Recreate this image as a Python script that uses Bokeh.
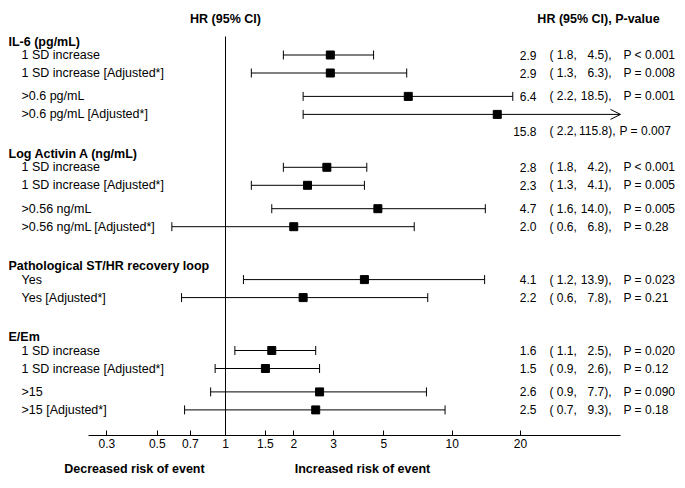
from bokeh.plotting import figure
from bokeh.models import Range1d, LogAxis, FixedTicker, Arrow, OpenHead, ColumnDataSource
from bokeh.core.properties import value
from bokeh.embed import file_html
from bokeh.resources import INLINE

# ---------------- data ----------------
GROUPS = ["IL-6 (pg/mL)", "Log Activin A (ng/mL)", "Pathological ST/HR recovery loop", "E/Em"]
ROW_GROUP = [0, 0, 0, 0, 1, 1, 1, 1, 2, 2, 3, 3, 3, 3]
ROW_LABELS = [
    "1 SD increase", "1 SD increase [Adjusted*]", ">0.6 pg/mL", ">0.6 pg/mL [Adjusted*]",
    "1 SD increase", "1 SD increase [Adjusted*]", ">0.56 ng/mL", ">0.56 ng/mL [Adjusted*]",
    "Yes", "Yes [Adjusted*]",
    "1 SD increase", "1 SD increase [Adjusted*]", ">15", ">15 [Adjusted*]",
]
HR = [2.9, 2.9, 6.4, 15.8, 2.8, 2.3, 4.7, 2.0, 4.1, 2.2, 1.6, 1.5, 2.6, 2.5]
LO = [1.8, 1.3, 2.2, 2.2, 1.8, 1.3, 1.6, 0.58, 1.2, 0.64, 1.1, 0.9, 0.86, 0.66]
HI = [4.5, 6.3, 18.5, 115.8, 4.2, 4.1, 14.0, 6.8, 13.9, 7.8, 2.5, 2.6, 7.7, 9.3]
P_VALUES = ["< 0.001", "= 0.008", "= 0.001", "= 0.007", "< 0.001", "= 0.005", "= 0.005",
            "= 0.28", "= 0.023", "= 0.21", "= 0.020", "= 0.12", "= 0.090", "= 0.18"]
TICKS = [0.3, 0.5, 0.7, 1, 1.5, 2, 3, 5, 10, 20]
TICK_LABELS = ["0.3", "0.5", "0.7", "1", "1.5", "2", "3", "5", "10", "20"]
HEAD_LEFT = "HR (95% CI)"
HEAD_RIGHT = "HR (95% CI), P-value"
SIDE_LABELS = ["Decreased risk of event", "Increased risk of event"]

# ---------------- layout ----------------
BORDER = 8
FRAME_W, FRAME_H = 672, 427
PX_ONE, PX_DECADE = 217.0, 226.7


def px_to_x(px):
    return 10 ** ((px - PX_ONE) / PX_DECADE)


X_START, X_END = px_to_x(0), px_to_x(FRAME_W)
AXIS_MIN, AXIS_MAX = px_to_x(80), px_to_x(612)
Y_BOTTOM, Y_TOP = 435, 8
HEAD_TOP, HEAD_TO_ROW, ROW_STEP, PAIR_STEP, GROUP_GAP = 41, 13.5, 18, 23.4, 39.4
TITLE_Y, REF_TOP, CAP = 18, 36, 4.5
FONT = "Liberation Sans"
FS, FSL, FSR, FSB = "12px", "12.5px", "12px", "12.5px"

head_y, row_y = [], []
cur = HEAD_TOP
for g in range(len(GROUPS)):
    head_y.append(cur)
    idx = [i for i, rg in enumerate(ROW_GROUP) if rg == g]
    for k, i in enumerate(idx):
        cur += HEAD_TO_ROW if k == 0 else (ROW_STEP if k % 2 else PAIR_STEP)
        row_y.append(cur)
    cur += GROUP_GAP

p = figure(frame_width=FRAME_W, frame_height=FRAME_H, x_axis_type="log",
           x_range=Range1d(X_START, X_END), y_range=Range1d(Y_BOTTOM, Y_TOP),
           y_axis_location=None, toolbar_location=None, output_backend="svg",
           min_border=0, min_border_left=BORDER, min_border_top=BORDER)
p.grid.visible = False
p.outline_line_color = None
p.background_fill_color = "white"

# main axis
ax = p.xaxis[0]
ax.ticker = FixedTicker(ticks=TICKS)
ax.bounds = (AXIS_MIN, AXIS_MAX)
ax.major_label_overrides = {t: l for t, l in zip(TICKS, TICK_LABELS)}
ax.major_tick_in = 5
ax.major_tick_out = 0
ax.minor_tick_line_color = None
ax.axis_line_color = "black"
ax.major_tick_line_color = "black"
ax.major_label_standoff = 3
ax.major_label_text_font = FONT
ax.major_label_text_font_size = FS
ax.major_label_text_color = "black"

# side labels as second axis
side_ticks = [round(px_to_x(126), 4), round(px_to_x(354), 4)]
ax2 = LogAxis(ticker=FixedTicker(ticks=side_ticks),
              major_label_overrides={t: l for t, l in zip(side_ticks, SIDE_LABELS)},
              axis_line_color=None, major_tick_line_color=None, minor_tick_line_color=None,
              major_label_standoff=5, major_label_text_font=FONT,
              major_label_text_font_size=FSB, major_label_text_font_style="bold",
              major_label_text_color="black")
p.add_layout(ax2, "below")

# reference line at HR = 1
p.segment(x0=[1], y0=[REF_TOP], x1=[1], y1=[Y_BOTTOM], line_color="black", line_width=1)

# CIs
normal = [i for i in range(len(HR)) if HI[i] <= AXIS_MAX]
over = [i for i in range(len(HR)) if HI[i] > AXIS_MAX]
seg = ColumnDataSource(dict(lo=[LO[i] for i in normal], hi=[HI[i] for i in normal],
                            y=[row_y[i] for i in normal],
                            y0=[row_y[i] - CAP for i in normal], y1=[row_y[i] + CAP for i in normal]))
p.segment(x0="lo", y0="y", x1="hi", y1="y", source=seg, line_color="black", line_width=1)
p.segment(x0="lo", y0="y0", x1="lo", y1="y1", source=seg, line_color="black", line_width=1)
p.segment(x0="hi", y0="y0", x1="hi", y1="y1", source=seg, line_color="black", line_width=1)
for i in over:
    p.segment(x0=[LO[i]], y0=[row_y[i] - CAP], x1=[LO[i]], y1=[row_y[i] + CAP],
              line_color="black", line_width=1)
    p.add_layout(Arrow(x_start=LO[i], y_start=row_y[i], x_end=AXIS_MAX, y_end=row_y[i],
                       line_color="black", line_width=1,
                       end=OpenHead(size=10, line_color="black", line_width=1)))

p.scatter(x=HR, y=row_y, marker="square", size=8, color="black")

# left texts
p.text(x=[X_START] * len(GROUPS), y=head_y, text=GROUPS, text_font=value(FONT),
       text_font_size=FSB, text_font_style="bold", text_baseline="middle", text_align="left",
       text_color="black")
p.text(x=[px_to_x(13)] * len(ROW_LABELS), y=row_y, text=ROW_LABELS, text_font=value(FONT),
       text_font_size=FSL, text_baseline="middle", text_align="left", text_color="black")

# headers
p.text(x=[1], y=[TITLE_Y], text=[HEAD_LEFT], text_font=value(FONT), text_font_size=FSB,
       text_font_style="bold", text_align="center", text_baseline="middle", text_color="black")
p.text(x=[px_to_x(590)], y=[TITLE_Y], text=[HEAD_RIGHT], text_font=value(FONT), text_font_size=FSB,
       text_font_style="bold", text_align="center", text_baseline="middle", text_color="black")

# right texts (rows whose CI leaves the axis get their text on the next line)
n = len(HR)
wide = [HI[i] > AXIS_MAX for i in range(n)]
ty = [row_y[i] + (ROW_STEP - 1 if wide[i] else 0) for i in range(n)]
cols = [
    (528, 0, "right", [f"{h:.1f}" for h in HR]),
    (541, 0, "left", [f"( {l:.1f}," for l in LO]),
    (603, 4, "right", [f"{h:.1f})," for h in HI]),
    (615, -4, "left", [f"P {pv}" for pv in P_VALUES]),
]
for px, shift, align, txt in cols:
    xs = [px_to_x(px + (shift if wide[i] else 0)) for i in range(n)]
    p.text(x=xs, y=ty, text=txt, text_font=value(FONT), text_font_size=FSR,
           text_align=align, text_baseline="middle", text_color="black")

open("out.html", "w").write(file_html(p, INLINE))
